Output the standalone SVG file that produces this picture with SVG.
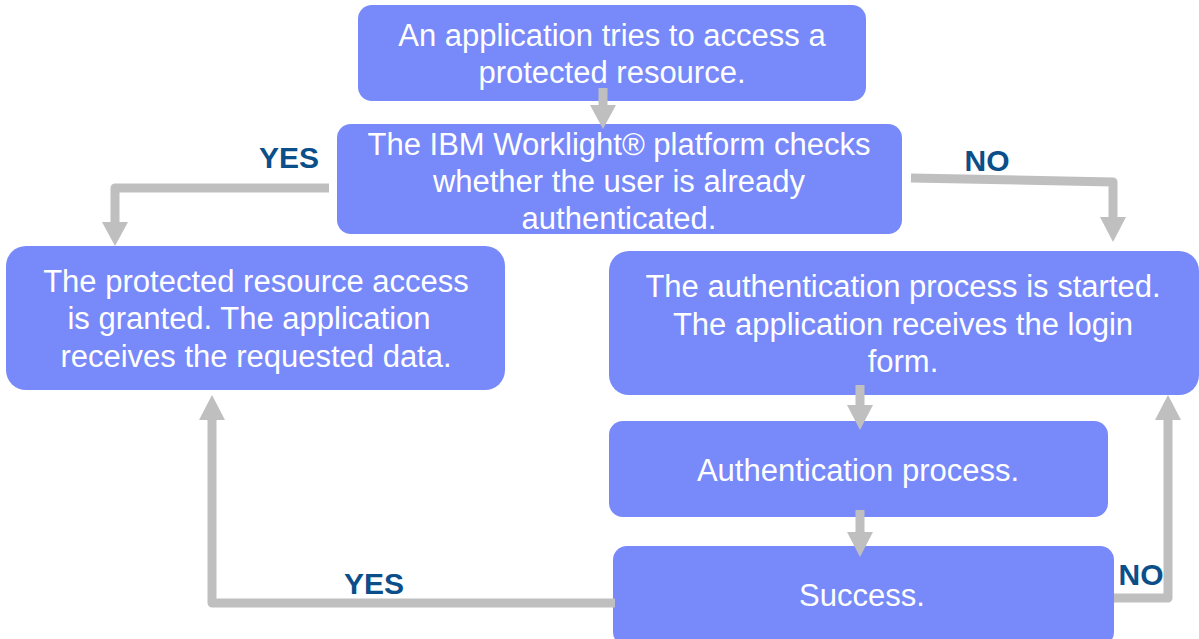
<svg xmlns="http://www.w3.org/2000/svg" width="1199" height="639" viewBox="0 0 1199 639">
<style>
.box{fill:#7889FA;}
.t{font-family:"Liberation Sans",Arial,sans-serif;font-size:31px;fill:#ffffff;text-anchor:middle;}
.lbl{font-family:"Liberation Sans",Arial,sans-serif;font-size:30px;font-weight:bold;fill:#0B4F8A;text-anchor:middle;}
.c{fill:none;stroke:#BFBFBF;stroke-width:9;stroke-linejoin:round;}
.h{fill:#BFBFBF;}
</style>
<rect width="1199" height="639" fill="#ffffff"/>
<g id="n1"><rect class="box" x="358" y="5" width="508" height="96" rx="14"/>
<text class="t" x="612" y="46">An application tries to access a</text>
<text class="t" x="612" y="83">protected resource.</text></g>
<g id="n2"><rect class="box" x="337" y="124" width="565" height="110" rx="14"/>
<text class="t" x="619" y="155">The IBM Worklight® platform checks</text>
<text class="t" x="619" y="192">whether the user is already</text>
<text class="t" x="619" y="229">authenticated.</text></g>
<g id="n3"><rect class="box" x="6" y="246" width="499" height="144" rx="20"/>
<text class="t" x="256" y="292">The protected resource access</text>
<text class="t" x="249" y="329">is granted. The application</text>
<text class="t" x="256" y="367">receives the requested data.</text></g>
<g id="n4"><rect class="box" x="609" y="251" width="590" height="144" rx="20"/>
<text class="t" x="903" y="297">The authentication process is started.</text>
<text class="t" x="903" y="335">The application receives the login</text>
<text class="t" x="903" y="372">form.</text></g>
<g id="n5"><rect class="box" x="609" y="421" width="499" height="96" rx="14"/>
<text class="t" x="858" y="481">Authentication process.</text></g>
<g id="n6"><rect class="box" x="613" y="546" width="501" height="100" rx="14"/>
<text class="t" x="862" y="606">Success.</text></g>
<g id="connectors">
<path class="c" d="M603 88 V106"/>
<polygon class="h" points="590,105 616,105 603,129"/>
<path class="c" d="M329 188 H115 V224"/>
<polygon class="h" points="102,222 128,222 115,246"/>
<path class="c" d="M911 178 L1113 182 V219"/>
<polygon class="h" points="1100,217 1126,217 1113,242"/>
<path class="c" d="M860 385 V407"/>
<polygon class="h" points="847,405 873,405 860,430"/>
<path class="c" d="M860 510 V534"/>
<polygon class="h" points="847,532 873,532 860,557"/>
<path class="c" d="M1114 598 H1168 V418"/>
<polygon class="h" points="1155,420 1181,420 1168,395"/>
<path class="c" d="M615 603 H212 V418"/>
<polygon class="h" points="199,420 225,420 212,395"/>
<text class="lbl" x="289" y="168">YES</text>
<text class="lbl" x="987" y="171">NO</text>
<text class="lbl" x="374" y="594">YES</text>
<text class="lbl" x="1141" y="585">NO</text>
</g>
</svg>
